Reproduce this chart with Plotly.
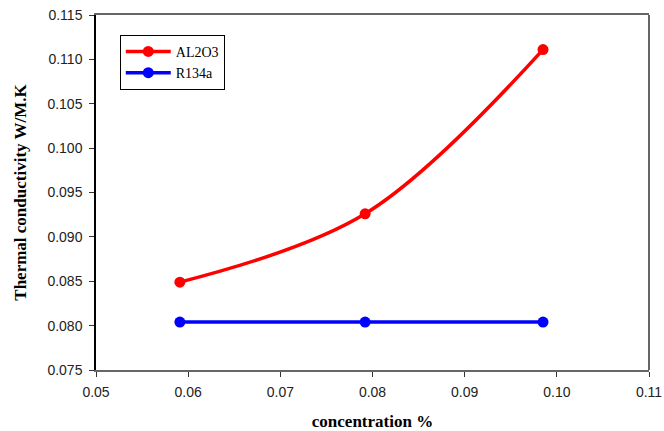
import plotly.graph_objects as go

concentration = [0.0591, 0.0792, 0.0985]
al2o3 = [0.0849, 0.0926, 0.1111]
r134a = [0.0804, 0.0804, 0.0804]

x_ticks = [0.05, 0.06, 0.07, 0.08, 0.09, 0.10, 0.11]
x_tick_text = ["0.05", "0.06", "0.07", "0.08", "0.09", "0.10", "0.11"]
y_ticks = [0.075, 0.080, 0.085, 0.090, 0.095, 0.100, 0.105, 0.110, 0.115]
y_tick_text = ["0.075", "0.080", "0.085", "0.090", "0.095", "0.100", "0.105", "0.110", "0.115"]

fig = go.Figure()
fig.add_trace(go.Scatter(
    x=concentration, y=al2o3, name="AL2O3", mode="lines+markers",
    line=dict(color="#ff0000", width=3.5, shape="spline", smoothing=1.0),
    marker=dict(color="#ff0000", size=11),
))
fig.add_trace(go.Scatter(
    x=concentration, y=r134a, name="R134a", mode="lines+markers",
    line=dict(color="#0000ff", width=3.5),
    marker=dict(color="#0000ff", size=11),
))

fig.update_layout(
    width=664, height=431,
    margin=dict(l=96, r=15, t=15, b=61, autoexpand=False),
    paper_bgcolor="white", plot_bgcolor="white",
    showlegend=True,
    legend=dict(
        x=0.043, y=0.944, xanchor="left", yanchor="top",
        bordercolor="black", borderwidth=1, bgcolor="white",
        font=dict(family="Liberation Serif", size=14, color="black"),
        tracegroupgap=0, itemwidth=45,
    ),
    xaxis=dict(
        range=[0.05, 0.11], tickvals=x_ticks, ticktext=x_tick_text,
        showgrid=False, zeroline=False, automargin=False,
        showline=True, linecolor="#666666", linewidth=1.5, mirror=True,
        ticks="outside", ticklen=5, tickcolor="#333333",
        ticklabeloverflow="allow", ticklabelstandoff=3,
        tickfont=dict(family="Liberation Sans", size=14, color="#222222"),
        title=dict(text="<b>concentration %</b>", standoff=18,
                   font=dict(family="Liberation Serif", size=17, color="black")),
    ),
    yaxis=dict(
        range=[0.075, 0.115], tickvals=y_ticks, ticktext=y_tick_text,
        showgrid=False, zeroline=False, automargin=False,
        showline=True, linecolor="black", linewidth=1.5,
        ticks="outside", ticklen=5, tickcolor="#333333",
        ticklabelstandoff=4,
        tickfont=dict(family="Liberation Sans", size=14, color="#222222"),
        title=dict(text="<b>Thermal conductivity W/M.K</b>", standoff=16,
                   font=dict(family="Liberation Serif", size=17, color="black")),
    ),
)
fig.add_shape(type="line", xref="paper", yref="paper", x0=1, x1=1, y0=0, y1=1,
              line=dict(color="#666666", width=2))

fig.write_html("out.html")
